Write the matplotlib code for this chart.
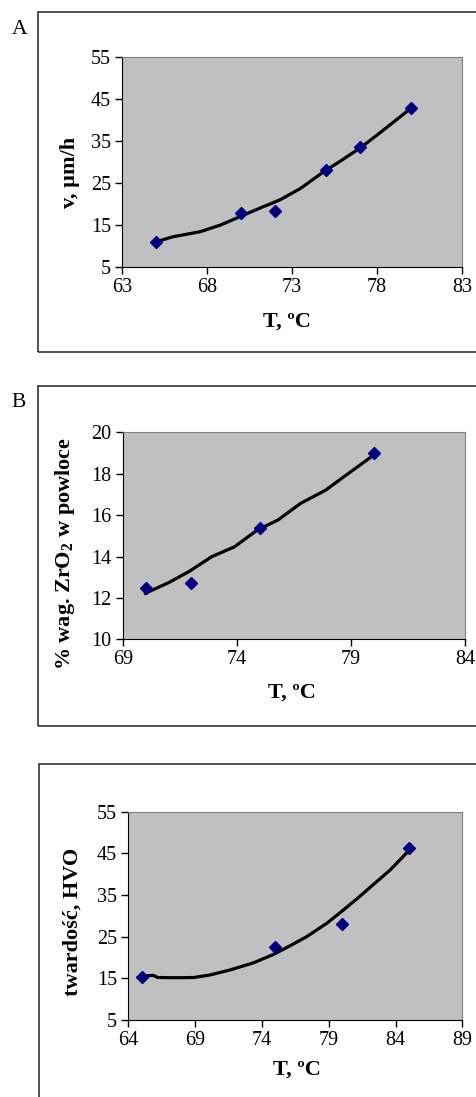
import matplotlib
matplotlib.use('Agg')
import matplotlib.pyplot as plt
from matplotlib.patches import Rectangle

plt.rcParams['font.family'] = ['Liberation Serif', 'DejaVu Serif']
plt.rcParams['mathtext.fontset'] = 'custom'
plt.rcParams['mathtext.rm'] = 'Liberation Serif'
plt.rcParams['mathtext.bf'] = 'Liberation Serif:bold'

# A: szybkosc osadzania
a_t = [65, 70, 72, 75, 77, 80]
a_v = [11.0, 17.9, 18.4, 28.0, 33.6, 42.9]
a_fit_t = [65, 66.0, 67.6, 68.8, 70, 71.1, 72.3, 73.5, 74.8, 75.8, 77, 78.0, 79, 80]
a_fit_v = [11.0, 12.2, 13.4, 15.0, 17.1, 19.0, 21.0, 23.7, 27.5, 30.1, 33.3, 36.4, 39.6, 42.8]

# B: zawartosc ZrO2
b_t = [70, 72, 75, 80]
b_w = [12.5, 12.7, 15.4, 19.0]
b_fit_t = [70, 70.3, 71.0, 71.9, 72.9, 73.9, 74.9, 75.8, 76.8, 77.9, 78.9, 79.9]
b_fit_w = [12.22, 12.38, 12.73, 13.27, 13.99, 14.47, 15.28, 15.76, 16.57, 17.21, 18.02, 18.82]

# C: twardosc
c_t = [65, 75, 80, 85]
c_h = [15.3, 22.5, 28.1, 46.2]
c_fit_t = [65, 65.9, 66.2, 67.6, 68.9, 70.1, 71.6, 73.4, 74.9, 76.1, 77.35,
           78.85, 80.1, 81.3, 82.3, 83.6, 84.8, 85]
c_fit_h = [15.6, 15.7, 15.2, 15.15, 15.2, 15.8, 17.0, 18.75, 20.8, 22.8, 25.0,
           28.2, 31.4, 34.6, 37.4, 41.0, 45.0, 45.9]

W, H = 477, 1097
fig = plt.figure(figsize=(W / 100, H / 100), dpi=100)


def box(l, r, t, b):
    return [l / W, 1 - b / H, (r - l) / W, (b - t) / H]


def frame(l, t, b):
    fig.add_artist(Rectangle((l / W, 1 - b / H), 1.2, (b - t) / H,
                             transform=fig.transFigure, fill=False,
                             edgecolor='#222222', linewidth=1.1))


def panel(rect, xs, ys, fx, fy, xlim, xt, ylim, yt, ylabel, ylc, xlc):
    ax = fig.add_axes(rect)
    ax.set_facecolor('#c0c0c0')
    ax.plot(fx, fy, color='black', linewidth=2.3, zorder=2,
            solid_joinstyle='round')
    ax.plot(xs, ys, linestyle='none', marker='D', markersize=6,
            color='#000080', zorder=3)
    ax.set_xlim(xlim)
    ax.set_ylim(ylim)
    ax.set_xticks(xt)
    ax.set_yticks(yt)
    ax.tick_params(direction='out', length=5, width=1, labelsize=14.5, pad=3)
    for s in ['top', 'right']:
        ax.spines[s].set_color('#808080')
    for s in ['left', 'bottom']:
        ax.spines[s].set_color('black')
    ax.set_ylabel(ylabel, fontsize=16, fontweight='bold', va='center', ha='center')
    ax.yaxis.set_label_coords(*ylc)
    ax.set_xlabel('T, ºC', fontsize=16, fontweight='bold', va='center', ha='center')
    ax.xaxis.set_label_coords(*xlc)
    return ax


frame(37.7, 12.3, 352)
frame(37.7, 385.7, 726)
frame(39, 764, 1110)
fig.text(20 / W, 1 - 30 / H, 'A', fontsize=15.5, ha='center', va='center')
fig.text(19 / W, 1 - 403 / H, 'B', fontsize=15.5, ha='center', va='center')

panel(box(122, 462, 57, 267), a_t, a_v, a_fit_t, a_fit_v,
      (63, 83), [63, 68, 73, 78, 83], (5, 55), [5, 15, 25, 35, 45, 55],
      'v, µm/h', (-0.153, 0.452), (0.485, -0.262))

panel(box(122.7, 465, 432.3, 639.3), b_t, b_w, b_fit_t, b_fit_w,
      (69, 84), [69, 74, 79, 84], (10, 20), [10, 12, 14, 16, 18, 20],
      r'% wag. ZrO$_\mathbf{2}$ w powloce', (-0.169, 0.414), (0.495, -0.259))

panel(box(128.3, 462.3, 811.7, 1020), c_t, c_h, c_fit_t, c_fit_h,
      (64, 89), [64, 69, 74, 79, 84, 89], (5, 55), [5, 15, 25, 35, 45, 55],
      'twardość, HVO', (-0.166, 0.47), (0.505, -0.24))

fig.savefig('out.png', dpi=100)
